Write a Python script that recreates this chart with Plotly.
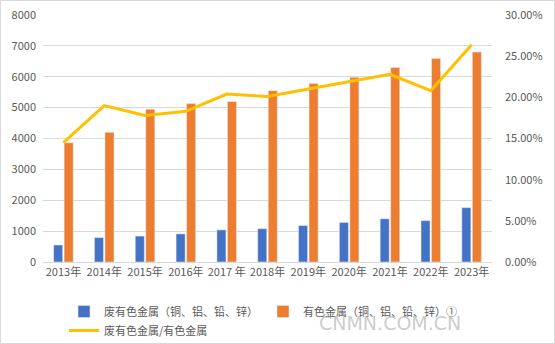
import plotly.graph_objects as go

years = ["2013年", "2014年", "2015年", "2016年", "2017 年", "2018年", "2019年",
         "2020年", "2021年", "2022年", "2023年"]
scrap = [550, 790, 840, 910, 1040, 1080, 1180, 1280, 1400, 1340, 1760]
total = [3860, 4200, 4950, 5130, 5200, 5550, 5780, 5980, 6300, 6590, 6800]
ratio = [0.145, 0.190, 0.178, 0.183, 0.204, 0.201, 0.210, 0.219, 0.228, 0.208, 0.264]

name_scrap = "废有色金属（铜、铝、铅、锌）"
name_total = "有色金属（铜、铝、铅、锌）①"
name_ratio = "废有色金属/有色金属"

W, H = 555, 344
ml, mr, mt, mb = 43, 63, 15, 82
pw, ph = W - ml - mr, H - mt - mb

font_fam = "Noto Sans CJK SC, Liberation Sans, sans-serif"
tick_col = "#595959"

fig = go.Figure()
fig.add_trace(go.Bar(x=years, y=scrap, name=name_scrap, marker_color="#4472C4"))
fig.add_trace(go.Bar(x=years, y=total, name=name_total, marker_color="#ED7D31"))
fig.add_trace(go.Scatter(x=years, y=ratio, name=name_ratio, mode="lines",
                         line=dict(color="#FFC000", width=3), yaxis="y2"))

fig.update_layout(
    width=W, height=H,
    margin=dict(l=ml, r=mr, t=mt, b=mb, autoexpand=False),
    paper_bgcolor="white", plot_bgcolor="white",
    barmode="group", bargap=0.485, bargroupgap=0.14,
    font=dict(family=font_fam, size=11, color=tick_col),
    xaxis=dict(showgrid=False, showline=True, linecolor="#D9D9D9", linewidth=1,
               ticks="", tickfont=dict(size=11, color=tick_col)),
    yaxis=dict(range=[0, 8000], dtick=1000, showgrid=True, gridcolor="#D9D9D9",
               zeroline=False, ticks="", tickfont=dict(size=11, color=tick_col),
               ticklabelstandoff=6),
    yaxis2=dict(range=[0, 0.30], dtick=0.05, tickformat=".2%", overlaying="y",
                side="right", showgrid=False, zeroline=False, ticks="",
                tickfont=dict(size=11, color=tick_col), ticklabelstandoff=12),
    showlegend=True,
    legend=dict(orientation="h", x=(64 - ml) / pw, xanchor="left",
                y=-(297 - mt - ph) / ph, yanchor="top",
                font=dict(size=11, color=tick_col),
                entrywidth=154, entrywidthmode="pixels",
                traceorder="normal", bgcolor="rgba(0,0,0,0)",
                tracegroupgap=0, itemwidth=30),
    shapes=[dict(type="rect", xref="paper", yref="paper",
                 x0=-(ml - 0.5) / pw, x1=(W - ml - 0.5) / pw,
                 y0=-(mb - 0.5) / ph, y1=(ph + mt - 0.5) / ph,
                 line=dict(color="#D9D9D9", width=1), fillcolor="rgba(0,0,0,0)")],
    annotations=[dict(text="CNMN.COM.CN", xref="paper", yref="paper",
                      x=(390 - ml) / pw, y=-(323 - mt - ph) / ph,
                      showarrow=False, xanchor="center", yanchor="middle",
                      font=dict(family="DejaVu Sans, sans-serif", size=19,
                                color="rgba(160,160,160,0.55)"))],
)

fig.write_html("out.html")
